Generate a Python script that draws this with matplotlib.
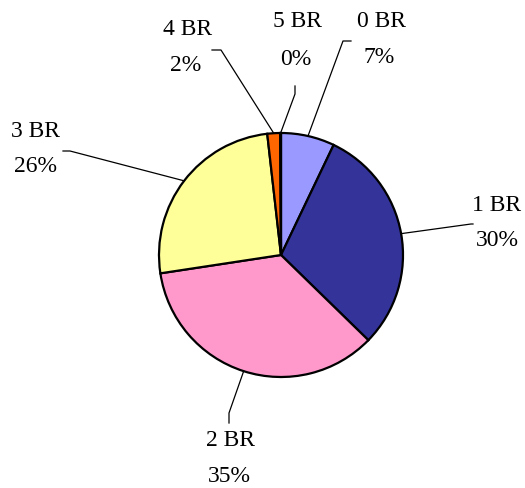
import numpy as np
import matplotlib
matplotlib.use('Agg')
import matplotlib.pyplot as plt

# data
categories = ['0 BR', '1 BR', '2 BR', '3 BR', '4 BR', '5 BR']
shares = [7.1, 30.2, 35.3, 25.6, 1.7, 0.1]
colors = ['#9999FF', '#333399', '#FF99CC', '#FFFF99', '#FF6600', '#993366']

W, H = 525, 489
fig = plt.figure(figsize=(W / 100, H / 100), dpi=100)
ax = fig.add_axes([0, 0, 1, 1])

cx, cy, r = 281, H - 256, 122
wedges, _ = ax.pie(shares, colors=colors, startangle=90, counterclock=False,
                   center=(cx, cy), radius=r, frame=True,
                   wedgeprops=dict(edgecolor='black', linewidth=1.6))
ax.set_xlim(0, W)
ax.set_ylim(0, H)
ax.axis('off')

# leader line elbows/ends and label spots (pixel coords, y from top)
layout = {
    '0 BR': ([(343, 42), (351, 42)], (381, 22), (379, 58)),
    '1 BR': ([(471, 225), (473, 225)], (497, 206), (497, 241)),
    '2 BR': ([(229, 414), (229, 424)], (230, 441), (229, 477)),
    '3 BR': ([(70, 152), (63, 152)], (35, 132), (35, 167)),
    '4 BR': ([(221, 51), (212, 51)], (188, 30), (186, 66)),
    '5 BR': ([(295, 95), (295, 87)], (297, 22), (296, 60)),
}

for w, cat, v in zip(wedges, categories, shares):
    mid = np.deg2rad((w.theta1 + w.theta2) / 2)
    ax0 = cx + r * np.cos(mid)
    ay0 = cy + r * np.sin(mid)
    pts, p1, p2 = layout[cat]
    xs = [ax0] + [p[0] for p in pts]
    ys = [ay0] + [H - p[1] for p in pts]
    ax.plot(xs, ys, color='black', linewidth=0.9)
    ax.text(p1[0], H - p1[1], cat, ha='center', va='center',
            fontsize=17, family='Liberation Serif')
    ax.text(p2[0], H - p2[1], f'{v:.0f}%', ha='center', va='center',
            fontsize=17, family='Liberation Serif')

fig.savefig('out.png', dpi=100)
